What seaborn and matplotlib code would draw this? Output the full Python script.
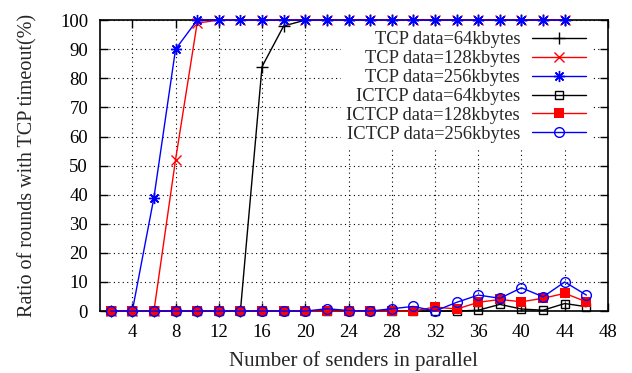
import numpy as np
import pandas as pd
import matplotlib
matplotlib.use("Agg")
import matplotlib.pyplot as plt
import seaborn as sns

senders_tcp = [2, 4, 6, 8, 10, 12, 14, 16, 18, 20, 22, 24, 26, 28, 30, 32, 34, 36, 38, 40, 42, 44]
senders_ictcp = [2, 4, 6, 8, 10, 12, 14, 16, 18, 20, 22, 24, 26, 28, 30, 32, 34, 36, 38, 40, 42, 44, 46]

tcp_64 = [0, 0, 0, 0, 0, 0, 0, 84, 98, 100, 100, 100, 100, 100, 100, 100, 100, 100, 100, 100, 100, 100]
tcp_128 = [0, 0, 0, 52, 99, 100, 100, 100, 100, 100, 100, 100, 100, 100, 100, 100, 100, 100, 100, 100, 100, 100]
tcp_256 = [0, 0, 39, 90, 100, 100, 100, 100, 100, 100, 100, 100, 100, 100, 100, 100, 100, 100, 100, 100, 100, 100]
ictcp_64 = [0, 0, 0, 0, 0, 0, 0, 0, 0, 0, 0, 0, 0, 0, 0, 0, 0, 0.3, 2.3, 0.7, 0.3, 2.6, 1.5]
ictcp_128 = [0, 0, 0, 0, 0, 0, 0, 0, 0, 0, 0, 0, 0, 0, 0, 1.4, 0.7, 3.0, 4.0, 3.2, 4.4, 6.1, 3.2]
ictcp_256 = [0, 0, 0, 0, 0, 0, 0, 0, 0, 0, 0.8, 0.2, 0, 0.8, 1.6, 0, 3.0, 5.5, 4.4, 8.0, 4.9, 10, 5.5]

series = [
    ("TCP data=64kbytes", senders_tcp, tcp_64, "black", dict(marker="+", markersize=8, mew=1.0)),
    ("TCP data=128kbytes", senders_tcp, tcp_128, "red", dict(marker="x", markersize=7, mew=1.0)),
    ("TCP data=256kbytes", senders_tcp, tcp_256, "blue", dict(marker=(8, 2, 0), markersize=8, mew=1.0)),
    ("ICTCP data=64kbytes", senders_ictcp, ictcp_64, "black", dict(marker="s", markersize=6, mfc="none", mew=1.0)),
    ("ICTCP data=128kbytes", senders_ictcp, ictcp_128, "red", dict(marker="s", markersize=6.5, mfc="red", mew=0)),
    ("ICTCP data=256kbytes", senders_ictcp, ictcp_256, "blue", dict(marker="o", markersize=7, mfc="none", mew=1.0)),
]

sns.set_style("ticks")
plt.rcParams["font.family"] = ["Liberation Serif", "DejaVu Serif"]

fig = plt.figure(figsize=(6.32, 3.73), dpi=100)
ax = fig.add_axes([0.158, 0.166, 0.804, 0.780])

for label, xs, ys, color, style in series:
    df = pd.DataFrame({"x": xs, "y": ys})
    sns.lineplot(data=df, x="x", y="y", ax=ax, color=color, linewidth=1.0,
                 label=label, clip_on=False, mec=color, zorder=3, **style)

ax.set_xlim(1, 48)
ax.set_ylim(0, 100)
ax.set_xticks(np.arange(4, 49, 4))
ax.set_yticks(np.arange(0, 101, 10))
ax.tick_params(direction="in", length=6, width=1, top=True, right=True,
               labelsize=13.5, colors="black")
ax.tick_params(axis="x", pad=9.5)
ax.tick_params(axis="y", pad=8.5)
for s in ax.spines.values():
    s.set_linewidth(1.2)
    s.set_color("black")
ax.grid(True, color="black", linestyle=(0, (1, 3)), linewidth=0.8)
ax.set_axisbelow(True)

ax.set_xlabel("Number of senders in parallel", fontsize=15, labelpad=7)
ax.set_ylabel("Ratio of rounds with TCP timeout(%)", fontsize=14.5, labelpad=16)

leg = ax.legend(loc="upper right", bbox_to_anchor=(0.985, 1.012), markerfirst=False,
                fontsize=13.3, handlelength=2.9, handletextpad=0.65, labelspacing=0.1,
                borderpad=0.3, frameon=True, fancybox=False, framealpha=1)
leg.get_frame().set_facecolor("white")
leg.get_frame().set_edgecolor("none")
leg.set_zorder(2)
for t in leg.get_texts():
    t.set_ha("right")
leg._legend_box.align = "right"

fig.savefig("out.png", dpi=100)
